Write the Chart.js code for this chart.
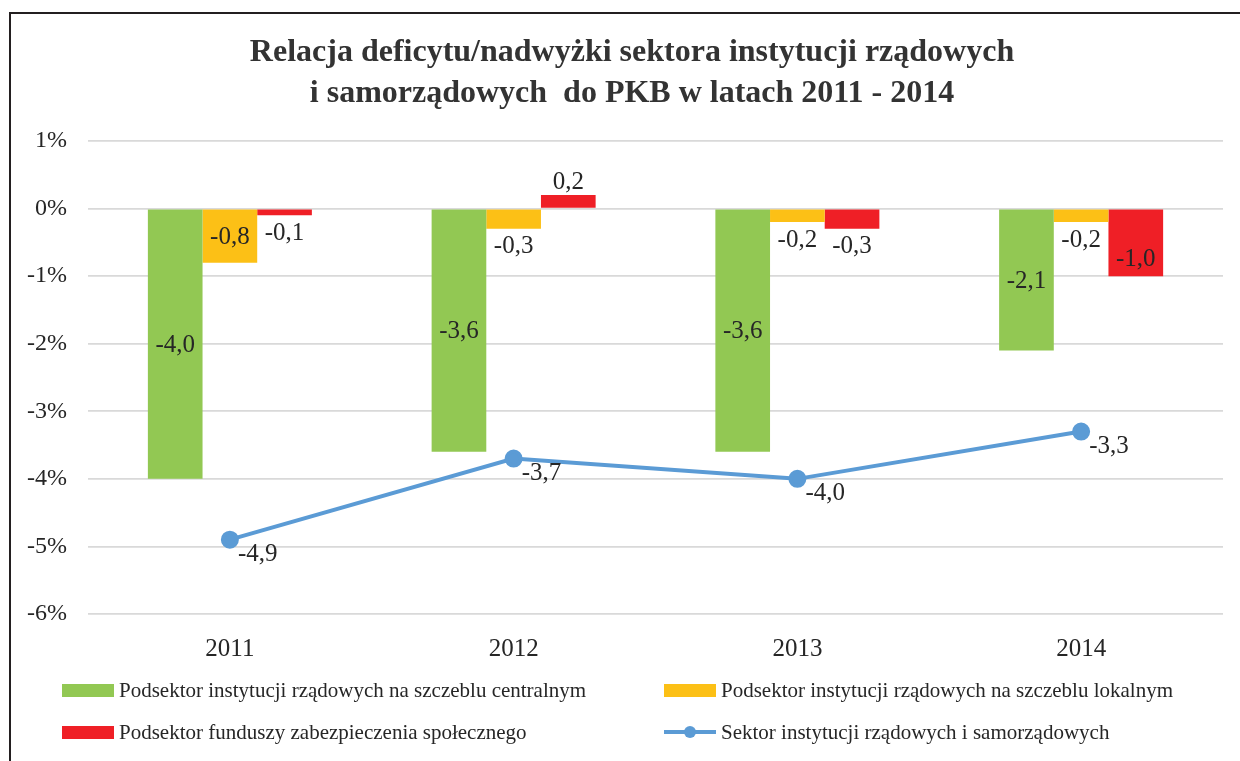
<!DOCTYPE html>
<html>
<head>
<meta charset="utf-8">
<script src="https://cdn.jsdelivr.net/npm/chart.js@4.4.1/dist/chart.umd.min.js"></script>
<style>
html,body{margin:0;padding:0;background:#fff;overflow:hidden;}
#wrap{position:absolute;left:0;top:0;width:1240px;height:761px;}
#frame{position:absolute;left:9px;top:12px;width:1240px;height:760px;border:2px solid #231f20;box-sizing:border-box;pointer-events:none;}
canvas{position:absolute;left:0;top:0;}
</style>
</head>
<body>
<div id="wrap">
<canvas id="c" width="1240" height="761"></canvas>
<div id="frame"></div>
</div>
<script>
const titleLines = ["Relacja deficytu/nadwyżki sektora instytucji rządowych", "i samorządowych  do PKB w latach 2011 - 2014"];
const categories = ["2011", "2012", "2013", "2014"];
const centralValues = [-4.0, -3.6, -3.6, -2.1];
const localValues = [-0.8, -0.3, -0.2, -0.2];
const socialValues = [-0.1, 0.2, -0.3, -1.0];
const totalValues = [-4.9, -3.7, -4.0, -3.3];
const seriesNames = [
  "Podsektor instytucji rządowych na szczeblu centralnym",
  "Podsektor instytucji rządowych na szczeblu lokalnym",
  "Podsektor funduszy zabezpieczenia społecznego",
  "Sektor instytucji rządowych i samorządowych"
];
const yTicks = [1, 0, -1, -2, -3, -4, -5, -6];

const FONT = "'Liberation Serif', 'Times New Roman', serif";
const TXT = "#262626";
const fmt = v => v.toFixed(1).replace('.', ',');

const labelsPlugin = {
  id: 'valueLabels',
  afterDatasetsDraw(chart) {
    const ctx = chart.ctx;
    ctx.save();
    ctx.font = "25px " + FONT;
    ctx.fillStyle = TXT;
    ctx.textBaseline = 'middle';
    chart.data.datasets.forEach((ds, di) => {
      const meta = chart.getDatasetMeta(di);
      meta.data.forEach((el, i) => {
        const v = ds.data[i];
        const t = fmt(v);
        if (ds.type === 'line') {
          ctx.textAlign = 'left';
          ctx.fillText(t, el.x + 8, el.y + 15);
          return;
        }
        ctx.textAlign = 'center';
        const top = Math.min(el.y, el.base), bot = Math.max(el.y, el.base);
        const h = bot - top;
        let y;
        if (di === 0) y = (top + bot) / 2 + 1;
        else if (v > 0) y = top - 13;
        else if (h > 60) y = bot - 17;
        else if (h > 40) y = (top + bot) / 2 + 1;
        else y = bot + 18;
        ctx.fillText(t, el.x, y);
      });
    });
    ctx.restore();
  }
};

const titlePlugin = {
  id: 'manualTitle',
  afterDraw(chart) {
    const ctx = chart.ctx;
    ctx.save();
    ctx.font = "bold 32px " + FONT;
    ctx.fillStyle = "#333333";
    ctx.textAlign = 'center';
    ctx.textBaseline = 'middle';
    ctx.fillText(titleLines[0], 632, 53);
    ctx.fillText(titleLines[1], 632, 94);
    ctx.restore();
  }
};

const legendPlugin = {
  id: 'gridLegend',
  afterDraw(chart) {
    const ctx = chart.ctx;
    const pos = [[62, 690], [664, 690], [62, 732], [664, 732]];
    ctx.save();
    ctx.font = "21px " + FONT;
    ctx.textBaseline = 'middle';
    ctx.textAlign = 'left';
    chart.data.datasets.forEach((ds, i) => {
      const [x, y] = pos[i];
      if (ds.type === 'line') {
        ctx.strokeStyle = ds.borderColor;
        ctx.lineWidth = 4;
        ctx.beginPath();
        ctx.moveTo(x, y);
        ctx.lineTo(x + 52, y);
        ctx.stroke();
        ctx.fillStyle = ds.pointBackgroundColor;
        ctx.beginPath();
        ctx.arc(x + 26, y, 6, 0, Math.PI * 2);
        ctx.fill();
      } else {
        ctx.fillStyle = ds.backgroundColor;
        ctx.fillRect(x, y - 6, 52, 13);
      }
      ctx.fillStyle = TXT;
      ctx.fillText(ds.label, x + 57, y + 1);
    });
    ctx.restore();
  }
};

const bgPlugin = {
  id: 'bg',
  beforeDraw(chart) {
    const ctx = chart.ctx;
    ctx.save();
    ctx.fillStyle = '#fff';
    ctx.fillRect(0, 0, chart.width, chart.height);
    ctx.restore();
  }
};

new Chart(document.getElementById('c'), {
  data: {
    labels: categories,
    datasets: [
      { type: 'bar', label: seriesNames[0], data: centralValues, backgroundColor: '#92c853', order: 2 },
      { type: 'bar', label: seriesNames[1], data: localValues, backgroundColor: '#fcc016', order: 2 },
      { type: 'bar', label: seriesNames[2], data: socialValues, backgroundColor: '#ef1f26', order: 2 },
      { type: 'line', label: seriesNames[3], data: totalValues, borderColor: '#5b9bd5', backgroundColor: '#5b9bd5',
        pointBackgroundColor: '#5b9bd5', pointBorderColor: '#5b9bd5', pointRadius: 7, borderWidth: 4, tension: 0, order: 1 }
    ]
  },
  options: {
    responsive: false,
    animation: false,
    devicePixelRatio: 1,
    layout: { padding: { top: 141, bottom: 97, left: 0, right: 17 } },
    datasets: { bar: { categoryPercentage: 0.578, barPercentage: 1.0 } },
    plugins: { legend: { display: false }, title: { display: false }, tooltip: { enabled: false } },
    scales: {
      x: {
        grid: { display: false, drawTicks: false },
        border: { display: false },
        ticks: { font: { family: FONT, size: 25 }, color: TXT, padding: 20 },
        afterFit(s) { s.height = 50; }
      },
      y: {
        min: -6, max: 1,
        afterBuildTicks(s) { s.ticks = yTicks.map(v => ({ value: v })); },
        grid: { color: '#d9d9d9', lineWidth: 1.8, drawTicks: false },
        border: { display: false },
        ticks: { font: { family: FONT, size: 24 }, color: TXT, padding: 21, callback: v => v + '%' },
        afterFit(s) { s.width = 88; }
      }
    }
  },
  plugins: [bgPlugin, labelsPlugin, titlePlugin, legendPlugin]
});
</script>
</body>
</html>
